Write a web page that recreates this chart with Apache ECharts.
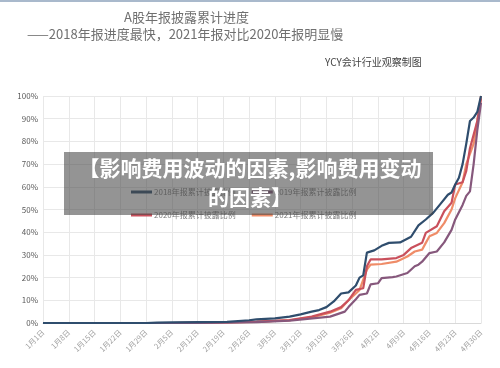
<!DOCTYPE html>
<html>
<head>
<meta charset="utf-8">
<script src="https://cdn.jsdelivr.net/npm/echarts@6/dist/echarts.min.js"></script>
<style>
  html, body { margin: 0; padding: 0; background: #fff; }
  #main { width: 500px; height: 368px; }
</style>
</head>
<body>
<div id="main"></div>
<script>
// x 轴刻度（每 7 天一个）
const xLabels = ['1月1日', '1月8日', '1月15日', '1月22日', '1月29日', '2月5日', '2月12日', '2月19日', '2月26日',
    '3月5日', '3月12日', '3月19日', '3月26日', '4月2日', '4月9日', '4月16日', '4月23日', '4月30日'];

const seriesNames = ['2018年报累计披露比例', '2019年报累计披露比例', '2020年报累计披露比例', '2021年报累计披露比例'];

// [第几天(1月1日=0), 累计披露比例%]
const data2018 = [[0, 0], [28, 0], [31, 0.2], [35, 0.3], [50, 0.5], [56, 1.2], [58, 1.6], [63, 2], [67, 2.8], [70, 3.8],
    [73, 5], [75, 5.7], [77, 7], [79, 9.5], [81, 13], [83, 13.5], [85, 16.5], [86, 20], [87, 21], [88, 31], [90, 32],
    [92, 34], [94, 35.3], [97, 35.5], [100, 38], [102, 43], [104, 45.6], [106, 48.5], [108, 52.5], [110, 56.5],
    [111, 57.5], [112, 61], [113, 64], [114, 70], [115, 79], [116, 89], [117, 90.5], [118, 93], [119, 100]];

const data2019 = [[0, 0], [40, 0], [58, 0.4], [67, 1], [78, 2.8], [82, 5], [83, 7], [85, 10.5], [86, 12.4], [88, 13],
    [89, 17], [91, 17.5], [92, 19.8], [95, 20.2], [96, 20.5], [99, 22], [101, 25], [102, 25.7], [103, 27], [105, 30.8],
    [107, 31.5], [109, 35.5], [111, 41], [112, 45.6], [114, 52], [115, 56], [116, 58], [117, 70], [118, 85], [119, 97]];

const data2020 = [[0, 0], [35, 0], [50, 0.3], [58, 0.6], [67, 1.3], [73, 2.8], [78, 5], [81, 7], [83, 10], [85, 14.6],
    [87, 15.3], [88, 25], [89, 28], [92, 28], [96, 28.6], [98, 30], [100, 33], [101, 33.8], [103, 35.3], [104, 39.7],
    [107, 42.6], [109, 49.2], [111, 53], [112, 61], [114, 62], [115, 67], [116, 77], [118, 89], [119, 99]];

const data2021 = [[0, 0], [35, 0], [50, 0.3], [58, 0.5], [67, 1.2], [73, 2.5], [78, 4.5], [81, 6.5], [83, 10], [85, 13],
    [86, 14.6], [88, 23.5], [89, 25.7], [92, 26], [96, 27], [99, 29.3], [101, 31.5], [103, 32.3], [104, 35.3],
    [105, 38.2], [107, 39.7], [109, 44], [111, 50], [112, 55], [114, 62], [115, 70], [117, 79], [118, 89], [119, 100]];

const seriesData = [data2018, data2019, data2020, data2021];
const colors = ['#2f4d6d', '#86587c', '#c9505c', '#ef8c68'];

const FONT = '"Noto Sans CJK SC", "Noto Sans", sans-serif';

const chart = echarts.init(document.getElementById('main'), null, {renderer: 'canvas'});

const option = {
    backgroundColor: '#fff',
    animation: false,
    color: colors,
    title: [
        {
            text: 'A股年报披露累计进度', left: 119, top: 6,
            textStyle: {fontFamily: FONT, fontSize: 13, fontWeight: 'normal', color: '#707070'}
        },
        {
            text: '——2018年报进度最快，2021年报对比2020年报明显慢', left: 22, top: 23,
            textStyle: {fontFamily: FONT, fontSize: 13, fontWeight: 'normal', color: '#707070'}
        },
        {
            text: 'YCY会计行业观察制图', left: 320, top: 52,
            textStyle: {fontFamily: FONT, fontSize: 10, fontWeight: 'normal', color: '#444'}
        }
    ],
    legend: [
        {
            data: seriesNames.slice(0, 2), left: 126, top: 183, icon: 'rect',
            itemWidth: 21, itemHeight: 3, itemGap: 16,
            textStyle: {fontFamily: FONT, fontSize: 8, color: '#808080', padding: [0, 0, 0, -3]}
        },
        {
            data: seriesNames.slice(2), left: 126, top: 206, icon: 'rect',
            itemWidth: 21, itemHeight: 3, itemGap: 16,
            textStyle: {fontFamily: FONT, fontSize: 8, color: '#808080', padding: [0, 0, 0, -3]}
        }
    ],
    grid: {left: 43, right: 19, top: 96, bottom: 45, containLabel: false},
    xAxis: {
        type: 'value', min: 0, max: 119, interval: 7,
        axisLine: {show: true, lineStyle: {color: '#d9d9d9'}},
        axisTick: {show: false},
        splitLine: {show: true, lineStyle: {color: '#e8e8e8'}},
        axisLabel: {
            rotate: 45, margin: 8, fontFamily: FONT, fontSize: 7.5, color: '#a0a0a0',
            formatter: v => xLabels[Math.round(v / 7)] || ''
        }
    },
    yAxis: {
        type: 'value', min: 0, max: 100, interval: 10,
        axisLine: {show: false},
        axisTick: {show: false},
        splitLine: {show: true, lineStyle: {color: '#e8e8e8'}},
        axisLabel: {margin: 5, fontFamily: FONT, fontSize: 8, color: '#595959', formatter: '{value}%'}
    },
    series: seriesNames.map((name, i) => ({
        name: name,
        type: 'line',
        data: seriesData[i],
        showSymbol: false,
        smooth: false,
        lineStyle: {width: 2.2, color: colors[i]},
        z: 10 - i
    })),
    graphic: [
        // 顶部细线
        {type: 'rect', left: 0, top: 0, shape: {width: 500, height: 2}, style: {fill: '#a9b9cc'}},
        // 水印遮罩
        {
            type: 'rect', left: 64, top: 152, z: 100,
            shape: {width: 369, height: 63}, style: {fill: 'rgba(70,70,70,0.58)'}
        },
        {
            type: 'text', z: 101, left: 'center', top: 154,
            style: {
                text: '【影响费用波动的因素,影响费用变动\n的因素】',
                fill: '#fff', font: 'bold 21px ' + FONT, textAlign: 'center', lineHeight: 29
            }
        }
    ]
};

chart.setOption(option);
</script>
</body>
</html>
